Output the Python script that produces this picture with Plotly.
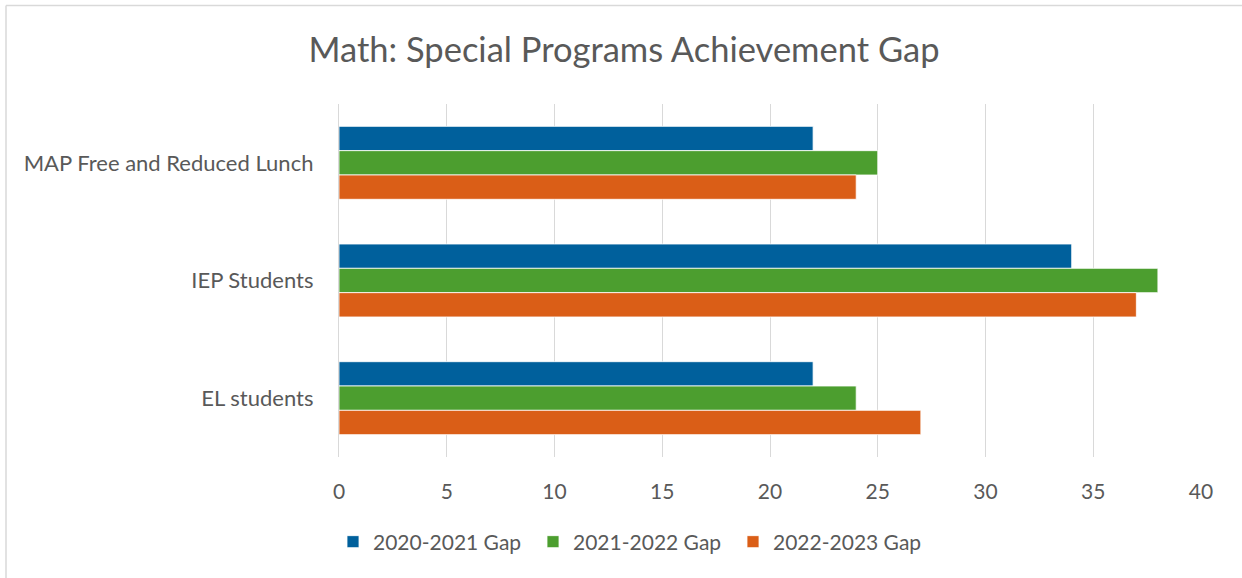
import plotly.graph_objects as go

categories = ["MAP Free and Reduced Lunch", "IEP Students", "EL students"]
series_names = ["2020-2021 Gap", "2021-2022 Gap", "2022-2023 Gap"]
gap_2020_2021 = [22, 34, 22]
gap_2021_2022 = [25, 38, 24]
gap_2022_2023 = [24, 37, 27]
x_ticks = [0, 5, 10, 15, 20, 25, 30, 35, 40]

colors = ["#00609C", "#4C9E2F", "#DA5E17"]
FONT = "Lato"
TXT = "#595959"

fig = go.Figure()
for name, vals, col in zip(series_names, [gap_2020_2021, gap_2021_2022, gap_2022_2023], colors):
    fig.add_trace(go.Bar(
        y=categories, x=vals, name=name, orientation="h",
        marker=dict(color=col, line=dict(color="white", width=0.8)),
    ))

L, R, T, B = 339, 41, 104, 121
W, H = 1242, 578
pw, ph = W - L - R, H - T - B
fx0 = (6 - L) / pw
fy1 = (T + ph - 5.5) / ph

fig.update_layout(
    width=W, height=H,
    margin=dict(l=L, r=R, t=T, b=B, autoexpand=False),
    paper_bgcolor="white", plot_bgcolor="white",
    barmode="group", bargap=0.38, bargroupgap=0,
    font=dict(family=FONT, color=TXT, size=20),
    title=dict(text="Math: Special Programs Achievement Gap", x=(624 / W), xref="container", xanchor="center",
               y=1 - 50 / H, yref="container", yanchor="middle",
               font=dict(family=FONT, size=34.5, color=TXT)),
    xaxis=dict(range=[0, 40], tickvals=x_ticks, showgrid=True, gridcolor="#D9D9D9", gridwidth=1.3,
               zeroline=False, showline=False, ticks="", ticklabelstandoff=20,
               tickfont=dict(family=FONT, size=21, color=TXT)),
    yaxis=dict(autorange="reversed", showline=True, linecolor="#D9D9D9", linewidth=1.3,
               ticks="", ticklabelstandoff=20, showgrid=False,
               tickfont=dict(family=FONT, size=22, color=TXT)),
    legend=dict(orientation="h", x=(633 - L) / pw, xanchor="center", y=(T + ph - 542) / ph, yanchor="middle",
                font=dict(family=FONT, size=21, color=TXT), itemwidth=30,
                entrywidth=155, entrywidthmode="pixels"),
    shapes=[
        dict(type="line", xref="paper", yref="paper", x0=fx0, x1=1.1, y0=fy1, y1=fy1,
             line=dict(color="#D9D9D9", width=1.5), layer="below"),
        dict(type="line", xref="paper", yref="paper", x0=fx0, x1=fx0, y0=-0.5, y1=fy1,
             line=dict(color="#D9D9D9", width=1.5), layer="below"),
    ],
)

fig.write_html("out.html", config={"displayModeBar": False},
               post_script="document.body.style.margin='0';document.body.style.overflow='hidden';")
